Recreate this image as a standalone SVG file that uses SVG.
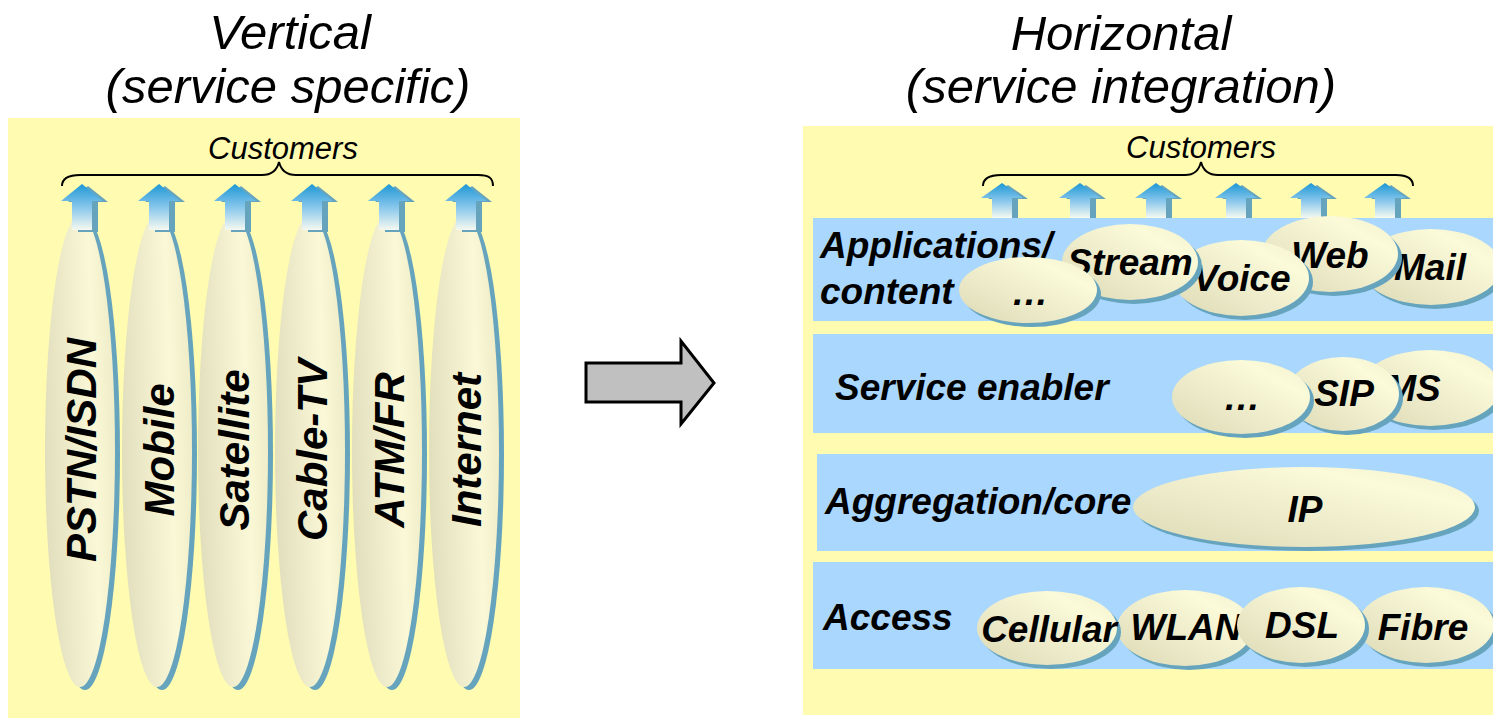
<svg xmlns="http://www.w3.org/2000/svg" width="1493" height="720" viewBox="0 0 1493 720">
  <style>
    .title { font-family: "Liberation Sans", Arial, sans-serif; font-style: italic; font-size: 49px; fill: #000; text-anchor: middle; }
    .cust { font-family: "Liberation Sans", Arial, sans-serif; font-style: italic; font-size: 31px; fill: #000; text-anchor: middle; }
    .lbl { font-family: "Liberation Sans", Arial, sans-serif; font-style: italic; font-weight: bold; font-size: 37px; fill: #000; }
    .mid { text-anchor: middle; }
    .vlbl { font-family: "Liberation Sans", Arial, sans-serif; font-style: italic; font-weight: bold; font-size: 42px; fill: #000; text-anchor: middle; }
    .panel { fill: #FFFBB0; }
    .band { fill: #A9D7FD; }
    .pill { fill: url(#pillFill); }
    .tall { fill: url(#tallFill); }
    .shadow { fill: #66A4BE; }
    .brace { fill: none; stroke: #000; stroke-width: 2; }
    .up { fill: url(#upFill); }
  </style>
  <defs>
    <linearGradient id="pillFill" x1="0" y1="1" x2="1" y2="0">
      <stop offset="0" stop-color="#DCD9B6"/>
      <stop offset="0.75" stop-color="#FBFAD9"/>
      <stop offset="1" stop-color="#F3F1CC"/>
    </linearGradient>
    <linearGradient id="tallFill" x1="0" y1="0.6" x2="1" y2="0.4">
      <stop offset="0" stop-color="#E0DEBC"/>
      <stop offset="0.7" stop-color="#FAF8D6"/>
      <stop offset="1" stop-color="#EFECC8"/>
    </linearGradient>
    <linearGradient id="upFill" x1="0" y1="0" x2="0" y2="1">
      <stop offset="0" stop-color="#1E98D5"/>
      <stop offset="0.5" stop-color="#86C6EC"/>
      <stop offset="1" stop-color="#F6F9F0"/>
    </linearGradient>
    <!-- upward customer arrow, tip at origin -->
    <g id="upLong">
      <polygon class="shadow" points="6,2 26,18 16,18 16,48 -4,48 -4,18 -14,18"/>
      <polygon class="up" points="0,0 21,17 10,17 10,46 -10,46 -10,17 -21,17"/>
    </g>
    <g id="upShort">
      <polygon class="shadow" points="6,2 26,16 16,16 16,35 -4,35 -4,16 -14,16"/>
      <polygon class="up" points="0,0 21,15 10,15 10,35 -10,35 -10,15 -21,15"/>
    </g>
  </defs>

  <!-- Titles -->
  <text class="title" x="290" y="49">Vertical</text>
  <text class="title" x="288" y="103">(service specific)</text>
  <text class="title" x="1121" y="50">Horizontal</text>
  <text class="title" x="1121" y="103">(service integration)</text>

  <!-- Left panel: vertical service silos -->
  <g id="vertical-panel">
    <rect class="panel" x="8" y="118" width="512" height="600"/>
    <text class="cust" x="283" y="159">Customers</text>
    <path class="brace" d="M62,186 C62,178 68,175 80,175 L262,175 C272,175 277,170 279,162 C281,170 286,175 296,175 L478,175 C489,175 493,178 493,186"/>
  </g>

  <g id="silo-pstn">
    <ellipse class="shadow" cx="85" cy="454" rx="35" ry="236"/>
    <ellipse class="tall" cx="80" cy="451" rx="35" ry="236"/>
    <use href="#upLong" x="82" y="184"/>
    <text class="vlbl" transform="translate(96,450) rotate(-90)">PSTN/ISDN</text>
  </g>
  <g id="silo-mobile">
    <ellipse class="shadow" cx="162" cy="454" rx="35" ry="236"/>
    <ellipse class="tall" cx="157" cy="451" rx="35" ry="236"/>
    <use href="#upLong" x="159" y="184"/>
    <text class="vlbl" transform="translate(174,450) rotate(-90)">Mobile</text>
  </g>
  <g id="silo-satellite">
    <ellipse class="shadow" cx="238" cy="454" rx="35" ry="236"/>
    <ellipse class="tall" cx="233" cy="451" rx="35" ry="236"/>
    <use href="#upLong" x="235" y="184"/>
    <text class="vlbl" transform="translate(249,450) rotate(-90)">Satellite</text>
  </g>
  <g id="silo-cabletv">
    <ellipse class="shadow" cx="315" cy="454" rx="35" ry="236"/>
    <ellipse class="tall" cx="310" cy="451" rx="35" ry="236"/>
    <use href="#upLong" x="312" y="184"/>
    <text class="vlbl" transform="translate(327,450) rotate(-90)">Cable-TV</text>
  </g>
  <g id="silo-atmfr">
    <ellipse class="shadow" cx="392" cy="454" rx="35" ry="236"/>
    <ellipse class="tall" cx="387" cy="451" rx="35" ry="236"/>
    <use href="#upLong" x="389" y="184"/>
    <text class="vlbl" transform="translate(404,450) rotate(-90)">ATM/FR</text>
  </g>
  <g id="silo-internet">
    <ellipse class="shadow" cx="469" cy="454" rx="35" ry="236"/>
    <ellipse class="tall" cx="464" cy="451" rx="35" ry="236"/>
    <use href="#upLong" x="466" y="184"/>
    <text class="vlbl" transform="translate(481,450) rotate(-90)">Internet</text>
  </g>

  <!-- Transition arrow -->
  <g id="connectors">
    <polygon points="586,363 681,363 681,341 714,383 681,424 681,402 586,402" fill="#C0C0C0" stroke="#000" stroke-width="3" stroke-linejoin="miter"/>
  </g>

  <!-- Right panel: horizontal layers -->
  <g id="horizontal-panel">
    <rect class="panel" x="803" y="126" width="690" height="589"/>
    <text class="cust" x="1201" y="158">Customers</text>
    <path class="brace" d="M983,186 C983,178 989,175 1001,175 L1185,175 C1195,175 1199,170 1201,162 C1203,170 1208,175 1218,175 L1396,175 C1407,175 1413,178 1413,186"/>
    <use href="#upShort" x="1002" y="183"/>
    <use href="#upShort" x="1080" y="183"/>
    <use href="#upShort" x="1156" y="183"/>
    <use href="#upShort" x="1236" y="183"/>
    <use href="#upShort" x="1311" y="183"/>
    <use href="#upShort" x="1385" y="183"/>
  </g>

  <g id="layer-applications">
    <rect class="band" x="813" y="218" width="680" height="103"/>
    <text class="lbl" x="820" y="258">Applications/</text>
    <text class="lbl" x="820" y="304">content</text>
  </g>
  <g id="app-mail">
    <ellipse class="shadow" cx="1435" cy="271" rx="70" ry="38"/>
    <ellipse class="pill" cx="1431" cy="267" rx="70" ry="38"/>
    <text class="lbl mid" x="1430" y="280">Mail</text>
  </g>
  <g id="app-web">
    <ellipse class="shadow" cx="1334" cy="258" rx="68" ry="38"/>
    <ellipse class="pill" cx="1330" cy="254" rx="68" ry="38"/>
    <text class="lbl mid" x="1330" y="268">Web</text>
  </g>
  <g id="app-voice">
    <ellipse class="shadow" cx="1245" cy="282" rx="68" ry="38"/>
    <ellipse class="pill" cx="1241" cy="278" rx="68" ry="38"/>
    <text class="lbl mid" x="1242" y="291">Voice</text>
  </g>
  <g id="app-stream">
    <ellipse class="shadow" cx="1134" cy="266" rx="68" ry="38"/>
    <ellipse class="pill" cx="1130" cy="262" rx="68" ry="38"/>
    <text class="lbl mid" x="1130" y="275">Stream</text>
  </g>
  <g id="app-more">
    <ellipse class="shadow" cx="1032" cy="294" rx="69" ry="33"/>
    <ellipse class="pill" cx="1028" cy="290" rx="69" ry="33"/>
    <text class="lbl mid" x="1030" y="305">…</text>
  </g>

  <g id="layer-service-enabler">
    <rect class="band" x="813" y="334" width="680" height="99"/>
    <text class="lbl" x="835" y="400">Service enabler</text>
  </g>
  <g id="se-ims">
    <ellipse class="shadow" cx="1434" cy="392" rx="70" ry="38"/>
    <ellipse class="pill" cx="1430" cy="388" rx="70" ry="38"/>
    <text class="lbl" x="1375" y="401">IMS</text>
  </g>
  <g id="se-sip">
    <ellipse class="shadow" cx="1347" cy="398" rx="56" ry="37"/>
    <ellipse class="pill" cx="1343" cy="394" rx="56" ry="37"/>
    <text class="lbl mid" x="1344" y="406">SIP</text>
  </g>
  <g id="se-more">
    <ellipse class="shadow" cx="1245" cy="401" rx="69" ry="37"/>
    <ellipse class="pill" cx="1241" cy="397" rx="69" ry="37"/>
    <text class="lbl mid" x="1242" y="410">…</text>
  </g>

  <g id="layer-aggregation">
    <rect class="band" x="817" y="454" width="676" height="97"/>
    <text class="lbl" x="825" y="514">Aggregation/core</text>
  </g>
  <g id="agg-ip">
    <ellipse class="shadow" cx="1308" cy="511" rx="171" ry="40"/>
    <ellipse class="pill" cx="1304" cy="507" rx="171" ry="40"/>
    <text class="lbl mid" x="1305" y="522">IP</text>
  </g>

  <g id="layer-access">
    <rect class="band" x="813" y="562" width="680" height="107"/>
    <text class="lbl" x="823" y="630">Access</text>
  </g>
  <g id="acc-fibre">
    <ellipse class="shadow" cx="1430" cy="629" rx="68" ry="38"/>
    <ellipse class="pill" cx="1426" cy="625" rx="68" ry="38"/>
    <text class="lbl mid" x="1423" y="640">Fibre</text>
  </g>
  <g id="acc-wlan">
    <ellipse class="shadow" cx="1189" cy="632" rx="68" ry="38"/>
    <ellipse class="pill" cx="1185" cy="628" rx="68" ry="38"/>
    <text class="lbl mid" x="1186" y="640">WLAN</text>
  </g>
  <g id="acc-dsl">
    <ellipse class="shadow" cx="1305" cy="629" rx="64" ry="38"/>
    <ellipse class="pill" cx="1301" cy="625" rx="64" ry="38"/>
    <text class="lbl mid" x="1302" y="638">DSL</text>
  </g>
  <g id="acc-cellular">
    <ellipse class="shadow" cx="1051" cy="632" rx="70" ry="37"/>
    <ellipse class="pill" cx="1047" cy="628" rx="70" ry="37"/>
    <text class="lbl mid" x="1049" y="642">Cellular</text>
  </g>
</svg>
